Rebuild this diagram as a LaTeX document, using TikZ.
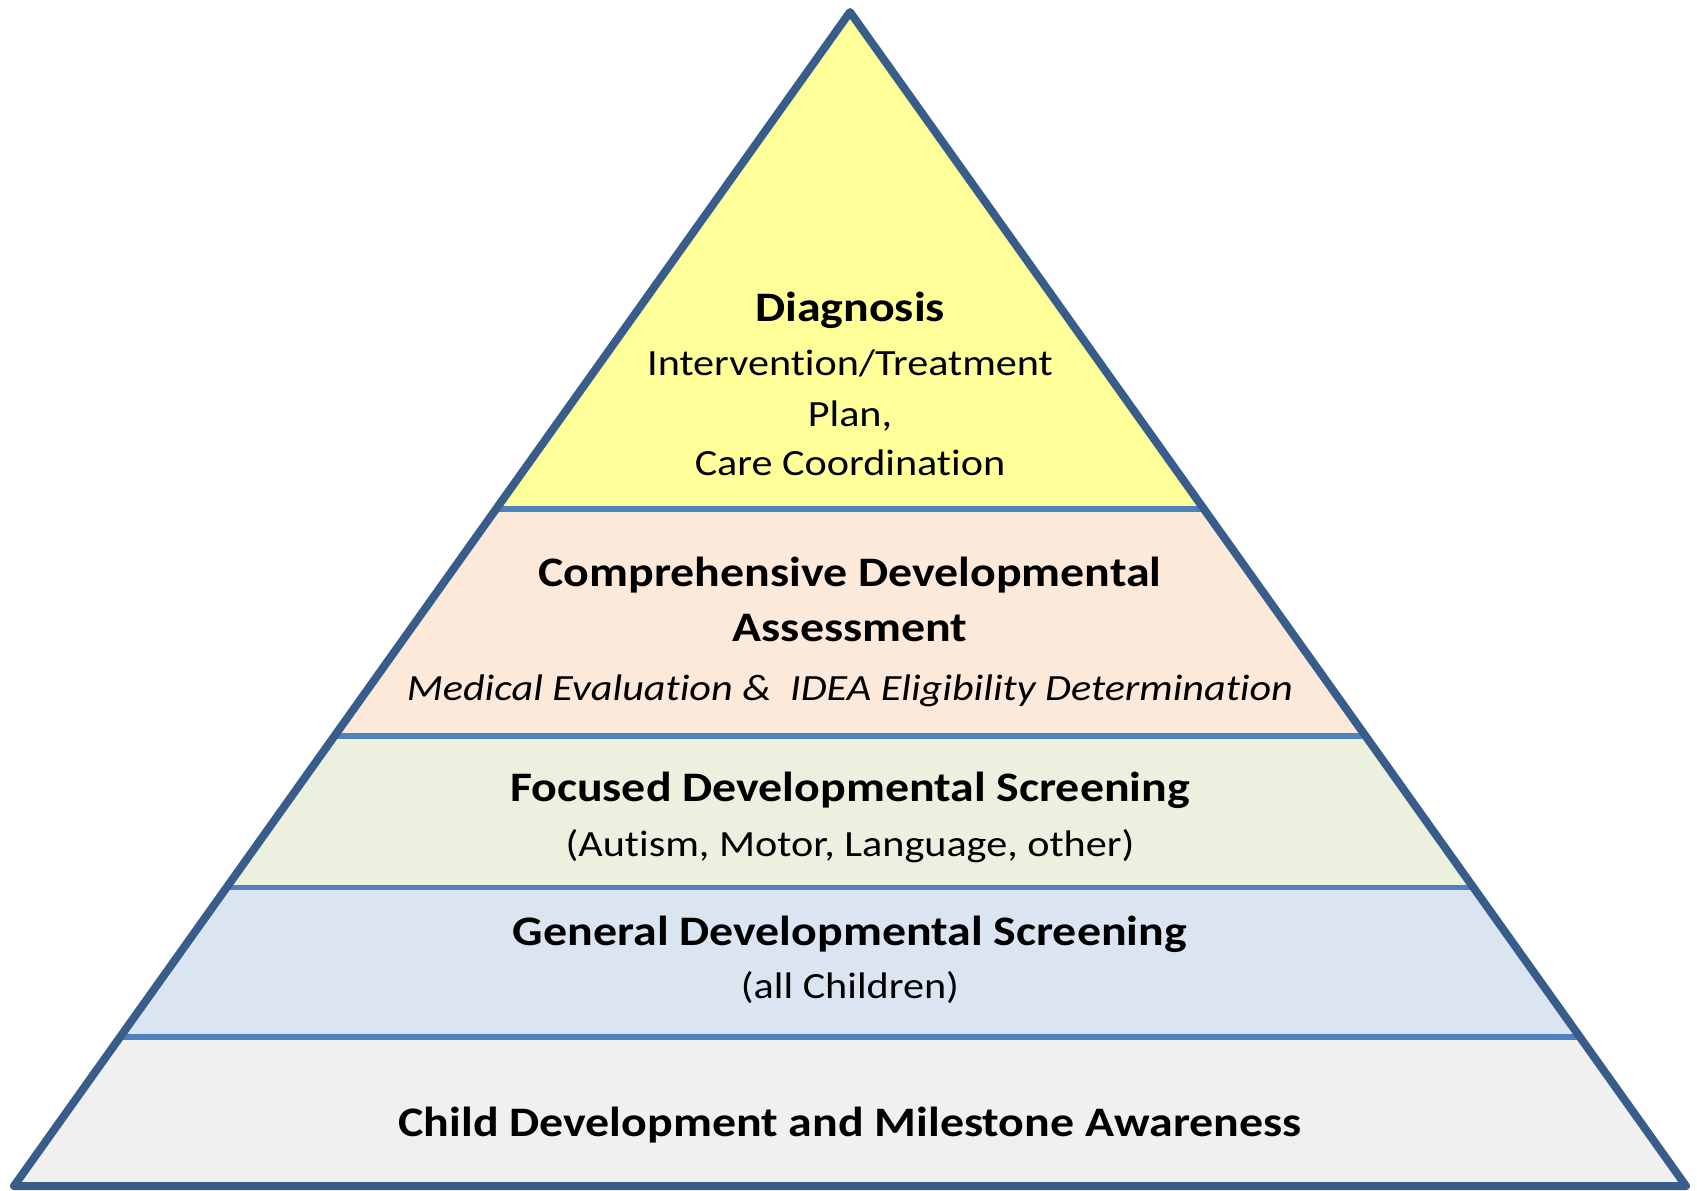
\documentclass[tikz,border=0pt]{standalone}
\usepackage{fontspec}
\setmainfont{Carlito}[FakeStretch=1.14,Ligatures=NoCommon]
\usepackage{tikz}
\usetikzlibrary{calc}
\definecolor{rim}{HTML}{385D8A}
\definecolor{sepline}{HTML}{4F81BD}
\definecolor{diagfill}{HTML}{FFFF99}
\definecolor{assessfill}{HTML}{FDE9D9}
\definecolor{focusfill}{HTML}{EBF1DE}
\definecolor{generalfill}{HTML}{DBE5F1}
\definecolor{awarefill}{HTML}{F0F0F0}

\begin{document}
\begin{tikzpicture}[x=0.75pt,y=-0.75pt,
  head/.style={anchor=base,inner sep=0pt,font=\fontsize{31.5}{38}\selectfont\bfseries},
  sub/.style={anchor=base,inner sep=0pt,font=\fontsize{27.75}{34}\selectfont},
  subit/.style={sub,font=\fontsize{27.75}{34}\selectfont\itshape}]
\useasboundingbox (0,0) rectangle (1697,1190);
\coordinate (A) at (850,12);
\coordinate (BL) at (14,1186);
\coordinate (BR) at (1686,1186);
\foreach \n/\t in {1/0.4233,2/0.6167,3/0.7457,4/0.8731} {
  \coordinate (L\n) at ($(A)!\t!(BL)$);
  \coordinate (R\n) at ($(A)!\t!(BR)$);
}
\fill[diagfill] (A) -- (L1) -- (R1) -- cycle;
\fill[assessfill] (L1) -- (L2) -- (R2) -- (R1) -- cycle;
\fill[focusfill] (L2) -- (L3) -- (R3) -- (R2) -- cycle;
\fill[generalfill] (L3) -- (L4) -- (R4) -- (R3) -- cycle;
\fill[awarefill] (L4) -- (BL) -- (BR) -- (R4) -- cycle;
\foreach \n in {1,...,4}
  \draw[sepline,line width=4pt] (L\n) -- (R\n);
\draw[rim,line width=6pt,line join=round] (A) -- (BL) -- (BR) -- cycle;

\node[head] (diag) at (850,321.7) {Diagnosis};
\node[sub] (diag1) at (850,375) {Intervention/Treatment};
\node[sub] (diag2) at (850,426) {Plan,};
\node[sub] (diag3) at (850,475) {Care Coordination};
\node[head] (comp) at (850,586.7) {Comprehensive Developmental};
\node[head] (comp1) at (850,641.7) {Assessment};
\node[subit] (comp2) at (850,700) {Medical Evaluation \&\ \ IDEA Eligibility Determination};
\node[head] (focus) at (850,801.7) {Focused Developmental Screening};
\node[sub] (focus1) at (850,856) {(Autism, Motor, Language, other)};
\node[head] (gen) at (850,945) {General Developmental Screening};
\node[sub] (gen1) at (850,998) {(all Children)};
\node[head] (aware) at (850,1136.7) {Child Development and Milestone Awareness};
\end{tikzpicture}
\end{document}
